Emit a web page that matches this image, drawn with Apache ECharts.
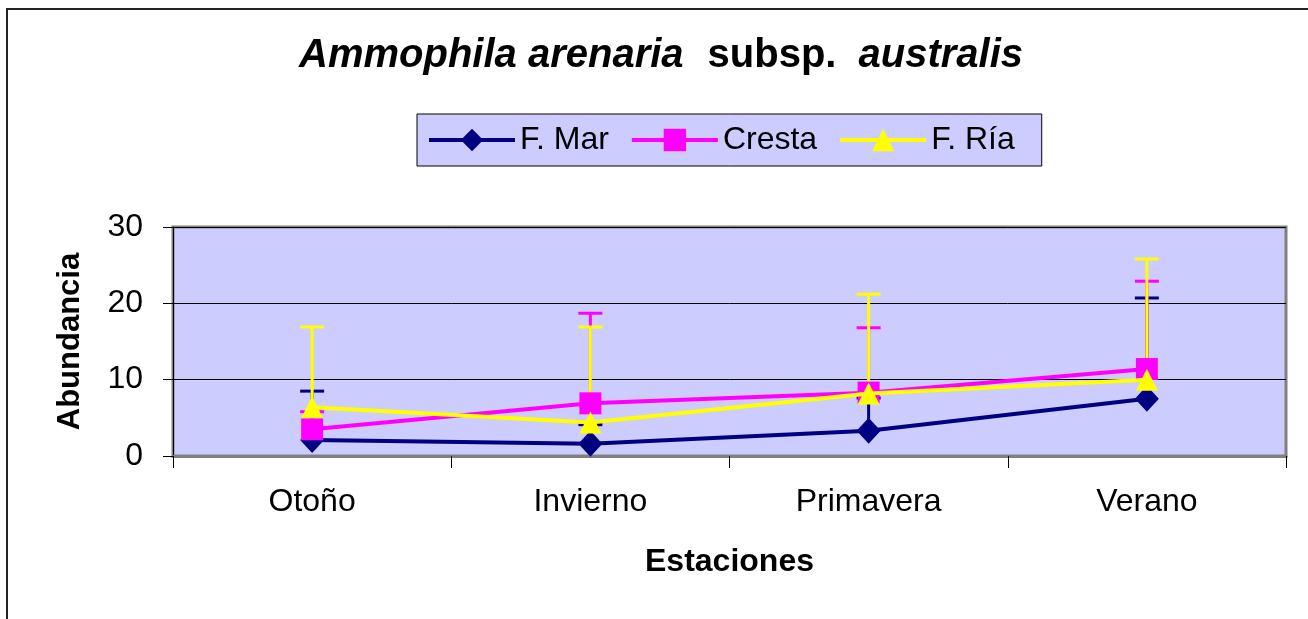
<!DOCTYPE html>
<html>
<head>
<meta charset="utf-8">
<script src="https://cdn.jsdelivr.net/npm/echarts@6/dist/echarts.min.js"></script>
<style>
  html, body { margin: 0; padding: 0; background: #fff; }
  #chart { width: 1308px; height: 619px; }
</style>
</head>
<body>
<div id="chart"></div>
<script>
// estaciones
var categories = ['Otoño', 'Invierno', 'Primavera', 'Verano']
var yTicks = [0, 10, 20, 30]
// medias
var fMar = [2.1, 1.6, 3.3, 7.5]
var cresta = [3.5, 6.9, 8.3, 11.4]
var fRia = [6.4, 4.4, 8.2, 10.0]
// extremo superior de la barra de error
var fMarTop = [8.5, 4.1, 7.6, 20.7]
var crestaTop = [5.8, 18.7, 16.8, 22.9]
var fRiaTop = [16.9, 16.9, 21.2, 25.8]

var font = "'Liberation Sans', Arial, sans-serif"

function errData (vals, tops) {
  var out = []
  for (var i = 0; i < vals.length; i++) {
    out.push([i, vals[i], tops[i]])
  }
  return out
}

// barra de error solo hacia arriba, con remate horizontal
function errSeries (name, color, vals, tops, z) {
  return {
    name: name,
    type: 'custom',
    z: z,
    data: errData(vals, tops),
    encode: { x: 0, y: [1, 2] },
    renderItem: function (params, api) {
      var p = api.coord([api.value(0), api.value(1)])
      var t = api.coord([api.value(0), api.value(2)])
      var st = { stroke: color, lineWidth: 3 }
      return {
        type: 'group',
        children: [
          { type: 'line', shape: { x1: p[0], y1: p[1], x2: p[0], y2: t[1] }, style: st },
          { type: 'line', shape: { x1: p[0] - 12, y1: t[1], x2: p[0] + 12, y2: t[1] }, style: st }
        ]
      }
    }
  }
}

function lineSeries (name, color, vals, symbol, size, z) {
  return {
    name: name,
    type: 'line',
    z: z,
    data: vals,
    symbol: symbol,
    symbolSize: size,
    showAllSymbol: true,
    color: color,
    lineStyle: { color: color, width: 4 },
    itemStyle: { color: color, opacity: 1 }
  }
}

var option = {
  animation: false,
  backgroundColor: '#fff',
  textStyle: { fontFamily: font },
  graphic: [{
    type: 'rect',
    shape: { x: 7, y: 9, width: 1400, height: 700 },
    style: { fill: 'none', stroke: '#222', lineWidth: 2 },
    silent: true
  }],
  title: {
    left: 656,
    top: 31,
    textAlign: 'center',
    text: '{i|Ammophila arenaria}{b|subsp.}{j|australis}',
    textStyle: {
      rich: {
        i: { fontFamily: font, fontSize: 40, fontWeight: 'bold', fontStyle: 'italic', color: '#000' },
        b: { fontFamily: font, fontSize: 40, fontWeight: 'bold', color: '#000', padding: [0, 0, 0, 24] },
        j: { fontFamily: font, fontSize: 40, fontWeight: 'bold', fontStyle: 'italic', color: '#000', padding: [0, 0, 0, 22] }
      }
    }
  },
  legend: {
    data: ['F. Mar', 'Cresta', 'F. Ría'],
    left: 417,
    top: 114,
    padding: [10, 27, 10, 10],
    itemGap: 21,
    itemWidth: 86,
    itemHeight: 28,
    backgroundColor: '#CCCCFF',
    borderColor: '#000',
    borderWidth: 1,
    borderRadius: 0,
    lineStyle: { width: 4 },
    textStyle: { fontFamily: font, fontSize: 32, color: '#000' }
  },
  grid: {
    left: 173,
    right: 22,
    top: 227,
    bottom: 163,
    show: true,
    backgroundColor: '#CCCCFF',
    borderColor: '#808080',
    borderWidth: 3
  },
  xAxis: {
    type: 'category',
    data: categories,
    boundaryGap: true,
    name: 'Estaciones',
    nameLocation: 'middle',
    nameGap: 90,
    nameTextStyle: { fontFamily: font, fontSize: 32, fontWeight: 'bold', color: '#000' },
    axisLine: { lineStyle: { color: '#808080', width: 3 } },
    axisTick: { show: true, length: 12, alignWithLabel: false, lineStyle: { color: '#000', width: 1 } },
    axisLabel: { margin: 30, fontFamily: font, fontSize: 32, color: '#000' },
    splitLine: { show: false }
  },
  yAxis: {
    type: 'value',
    min: yTicks[0],
    max: yTicks[yTicks.length - 1],
    interval: 10,
    name: 'Abundancia',
    nameLocation: 'middle',
    nameGap: 87,
    nameTextStyle: { fontFamily: font, fontSize: 31, fontWeight: 'bold', color: '#000' },
    axisLine: { show: true, lineStyle: { color: '#000', width: 1 } },
    axisTick: { show: true, length: 10, lineStyle: { color: '#000', width: 1 } },
    axisLabel: { margin: 30, fontFamily: font, fontSize: 32, color: '#000' },
    splitLine: { show: true, lineStyle: { color: '#000', width: 1 } }
  },
  series: [
    errSeries('F. Mar err', '#000080', fMar, fMarTop, 2),
    errSeries('Cresta err', '#FF00FF', cresta, crestaTop, 3),
    errSeries('F. Ría err', '#FFFF00', fRia, fRiaTop, 4),
    lineSeries('F. Mar', '#000080', fMar, 'diamond', [24, 26], 5),
    lineSeries('Cresta', '#FF00FF', cresta, 'rect', 22, 6),
    lineSeries('F. Ría', '#FFFF00', fRia, 'triangle', 22, 7)
  ]
}

var myChart = echarts.init(document.getElementById('chart'))
myChart.setOption(option)
</script>
</body>
</html>
